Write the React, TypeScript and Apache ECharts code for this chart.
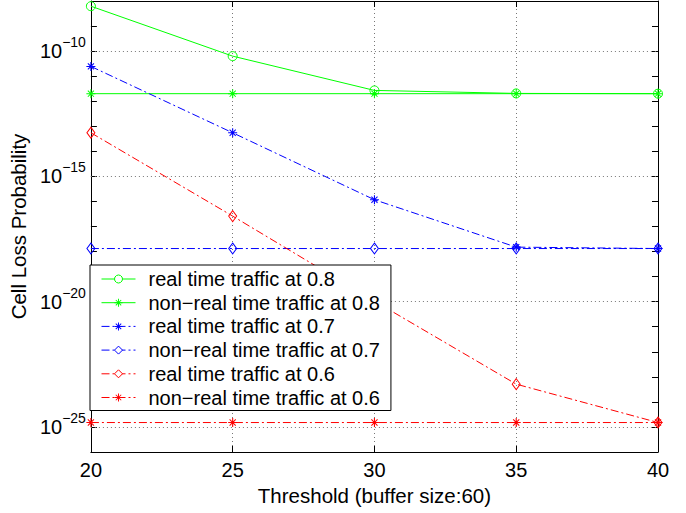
import React, { useEffect, useRef } from "react";
import * as echarts from "echarts";

// ---- data ----
const xValues = [20, 25, 30, 35, 40];
const rt08 = [6.2e-9, 6.3e-11, 2.7e-12, 2.05e-12, 2.0e-12];
const nrt08 = [2.0e-12, 2.0e-12, 2.0e-12, 2.0e-12, 2.0e-12];
const rt07 = [2.45e-11, 5.5e-14, 1.17e-16, 1.5e-18, 1.32e-18];
const nrt07 = [1.32e-18, 1.32e-18, 1.32e-18, 1.32e-18, 1.32e-18];
const rt06 = [5.5e-14, 2.6e-17, 1.05e-20, 5.1e-24, 1.5e-25];
const nrt06 = [1.5e-25, 1.5e-25, 1.5e-25, 1.5e-25, 1.5e-25];
const seriesNames = [
  "real time traffic at 0.8",
  "non\u2212real time traffic at 0.8",
  "real time traffic at 0.7",
  "non\u2212real time traffic at 0.7",
  "real time traffic at 0.6",
  "non\u2212real time traffic at 0.6",
];
const yLabelExps = [-25, -20, -15, -10];
const yMinExp = -26;
const yMaxExp = -8;
const xTitle = "Threshold (buffer size:60)";
const yTitle = "Cell Loss Probability";

const FONT = "'Liberation Sans', Arial, Helvetica, sans-serif";
const ASTERISK =
  "path://M0 44L100 44L100 56L0 56ZM44 0L56 0L56 100L44 100ZM12 20L20 12L88 80L80 88ZM80 12L88 20L20 88L12 80Z";
const DASHDOT = [8, 3, 2, 3];

export default function App() {
  const ref = useRef<HTMLDivElement>(null);

  useEffect(() => {
    if (!ref.current) return;
    const chart = echarts.init(ref.current, undefined, { renderer: "svg" });

    const toPts = (vals: number[]) => vals.map((v, i) => [xValues[i], Math.log10(v)]);

    const defs = [
      { vals: rt08, color: "#00ff00", symbol: "circle", size: 9, hollow: true, dash: "solid" },
      { vals: nrt08, color: "#00ff00", symbol: ASTERISK, size: 9, hollow: false, dash: "solid" },
      { vals: rt07, color: "#0000ff", symbol: ASTERISK, size: 9, hollow: false, dash: DASHDOT },
      { vals: nrt07, color: "#0000ff", symbol: "diamond", size: [8, 11], hollow: true, dash: DASHDOT },
      { vals: rt06, color: "#ff0000", symbol: "diamond", size: [8, 11], hollow: true, dash: DASHDOT },
      { vals: nrt06, color: "#ff0000", symbol: ASTERISK, size: 9, hollow: false, dash: DASHDOT },
    ];

    const series: any[] = defs.map((d, i) => ({
      name: seriesNames[i],
      type: "line",
      data: toPts(d.vals),
      symbol: d.symbol,
      symbolSize: d.size,
      showSymbol: true,
      lineStyle: { color: d.color, width: 1, type: d.dash },
      itemStyle: d.hollow
        ? { color: "none", borderColor: d.color, borderWidth: 1 }
        : { color: d.color, borderWidth: 0 },
      emphasis: { disabled: true },
      z: 3,
    }));
    // horizontal dotted grid lines at labelled decades
    series[0].markLine = {
      silent: true,
      symbol: ["none", "none"],
      label: { show: false },
      lineStyle: { color: "#777", width: 1, type: [1, 3] },
      data: yLabelExps.map((e) => ({ yAxis: e })),
      z: 1,
    };

    const legendData = defs.map((d, i) => ({
      name: seriesNames[i],
      itemStyle: d.hollow
        ? { color: "#fff", borderColor: d.color, borderWidth: 1 }
        : { color: d.color, borderWidth: 0 },
      lineStyle: { color: d.color, width: 1, type: d.dash },
    }));

    const axisLine = { show: true, lineStyle: { color: "#000", width: 1 } };

    chart.setOption({
      animation: false,
      backgroundColor: "#fff",
      textStyle: { fontFamily: FONT },
      grid: { left: 85, right: 28, top: 1, bottom: 61, containLabel: false },
      xAxis: [
        {
          type: "value",
          min: 20,
          max: 40,
          interval: 5,
          position: "bottom",
          axisLine,
          axisTick: { show: true, inside: true, length: 6, lineStyle: { color: "#000" } },
          axisLabel: { show: true, margin: 8, fontSize: 20, color: "#000", fontFamily: FONT },
          splitLine: { show: true, lineStyle: { color: "#777", width: 1, type: [1, 3] } },
          name: xTitle,
          nameLocation: "middle",
          nameGap: 28,
          nameTextStyle: { fontSize: 20.5, color: "#000", fontFamily: FONT },
        },
        {
          type: "value",
          min: 20,
          max: 40,
          interval: 5,
          position: "top",
          axisLine,
          axisTick: { show: true, inside: true, length: 6, lineStyle: { color: "#000" } },
          axisLabel: { show: false },
          splitLine: { show: false },
        },
      ],
      yAxis: [
        {
          type: "value",
          min: yMinExp,
          max: yMaxExp,
          interval: 1,
          position: "left",
          axisLine,
          axisTick: { show: true, inside: true, length: 6, lineStyle: { color: "#000" } },
          splitLine: { show: false },
          axisLabel: {
            show: true,
            margin: 5,
            formatter: (v: number) =>
              yLabelExps.indexOf(Math.round(v)) >= 0 ? `{b|10}{s|\u2212${-Math.round(v)}}` : "",
            rich: {
              b: { fontSize: 20, color: "#000", fontFamily: FONT },
              s: { fontSize: 14, color: "#000", fontFamily: FONT, padding: [0, 0, 18, 0] },
            },
          },
          name: yTitle,
          nameLocation: "middle",
          nameGap: 45,
          nameTextStyle: { fontSize: 20.5, color: "#000", fontFamily: FONT },
        },
        {
          type: "value",
          min: yMinExp,
          max: yMaxExp,
          interval: 1,
          position: "right",
          axisLine,
          axisTick: { show: true, inside: true, length: 6, lineStyle: { color: "#000" } },
          splitLine: { show: false },
          axisLabel: { show: false },
        },
      ],
      legend: {
        show: true,
        orient: "vertical",
        left: 90,
        top: 265,
        padding: [4, 11, 3, 11],
        itemGap: 3.7,
        itemWidth: 34,
        itemHeight: 10,
        backgroundColor: "#fff",
        borderColor: "#000",
        borderWidth: 1,
        borderRadius: 0,
        selectedMode: false,
        textStyle: { fontSize: 20, color: "#000", fontFamily: FONT, padding: [0, 0, 0, 8] },
        data: legendData,
      },
      series,
    });

    return () => chart.dispose();
  }, []);

  return (
    <div
      ref={ref}
      style={{ position: "fixed", left: 0, top: 0, width: 686, height: 513, background: "#fff" }}
    />
  );
}
